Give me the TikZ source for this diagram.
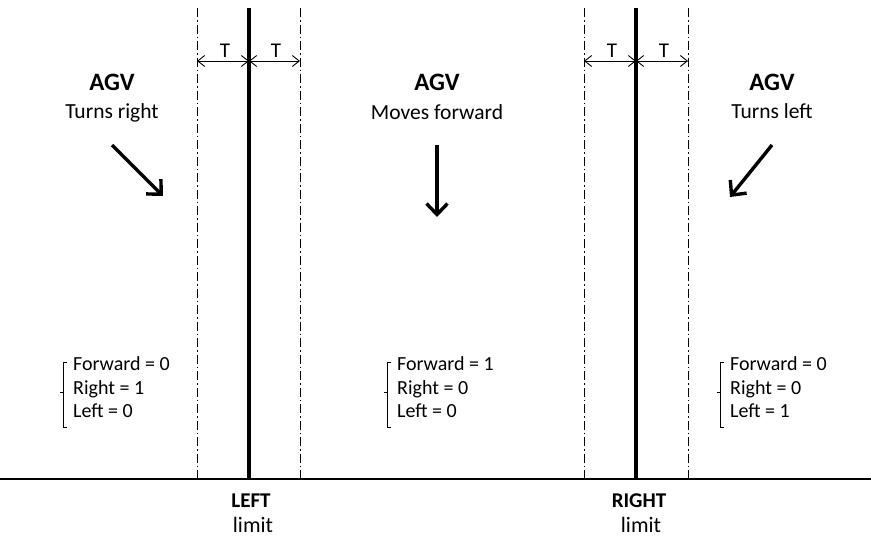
\documentclass[tikz,border=0pt]{standalone}
\usepackage{fontspec}
\setmainfont{Carlito}
\usetikzlibrary{arrows.meta}
\begin{document}
\begin{tikzpicture}[x=1pt,y=-1pt,
  limitline/.style={line width=4pt},
  groundline/.style={line width=2.5pt},
  guide/.style={line width=0.9pt, dash pattern=on 9pt off 3pt on 1.5pt off 3pt},
  tarrow/.style={line width=0.9pt, {Straight Barb[length=7pt,width=11pt]}-{Straight Barb[length=7pt,width=11pt]}},
  move/.style={line width=3.4pt, -{Straight Barb[length=11pt,width=21pt]}},
  brk/.style={line width=0.9pt},
  title/.style={font=\fontsize{25}{28}\selectfont\bfseries, anchor=base, inner sep=0pt},
  sub/.style={font=\fontsize{21.5}{25}\selectfont, anchor=base, inner sep=0pt},
  state/.style={font=\fontsize{20}{23}\selectfont, anchor=base west, inner sep=0pt},
  tlabel/.style={font=\fontsize{21}{23}\selectfont, anchor=base, inner sep=0pt},
  limlab/.style={font=\fontsize{21}{24}\selectfont\bfseries, anchor=base, inner sep=0pt},
  limsub/.style={font=\fontsize{22}{24}\selectfont, anchor=base, inner sep=0pt}]
\useasboundingbox (0,0) rectangle (871,538);

% ground
\coordinate (g0) at (0,479);
\coordinate (g1) at (871,479);
\draw[groundline] (g0) -- (g1);

% left limit
\coordinate (Lt) at (249,8);  \coordinate (Lb) at (249,479);
\coordinate (Lat) at (197,8); \coordinate (Lab) at (197,479);
\coordinate (Lbt) at (300,8); \coordinate (Lbb) at (300,479);
\draw[guide] (Lat) -- (Lab);
\draw[guide] (Lbt) -- (Lbb);
\draw[limitline] (Lt) -- (Lb);
\coordinate (LTa) at (197,61); \coordinate (LTm) at (249,61); \coordinate (LTb) at (300,61);
\draw[tarrow] (LTa) -- (LTm);
\draw[tarrow] (LTm) -- (LTb);
\node[tlabel] (LT1) at (225,57) {T};
\node[tlabel] (LT2) at (276,57) {T};

% right limit
\coordinate (Rt) at (636,8);  \coordinate (Rb) at (636,479);
\coordinate (Rat) at (584,8); \coordinate (Rab) at (584,479);
\coordinate (Rbt) at (688,8); \coordinate (Rbb) at (688,479);
\draw[guide] (Rat) -- (Rab);
\draw[guide] (Rbt) -- (Rbb);
\draw[limitline] (Rt) -- (Rb);
\coordinate (RTa) at (584,61); \coordinate (RTm) at (636,61); \coordinate (RTb) at (688,61);
\draw[tarrow] (RTa) -- (RTm);
\draw[tarrow] (RTm) -- (RTb);
\node[tlabel] (RT1) at (612,57) {T};
\node[tlabel] (RT2) at (664,57) {T};

% limit labels
\node[limlab] (leftlab) at (251,507) {LEFT};
\node[limsub] (leftsub) at (253,532) {limit};
\node[limlab] (rightlab) at (639,507) {RIGHT};
\node[limsub] (rightsub) at (641,532) {limit};

% titles
\node[title] (agv1) at (112,90) {AGV};
\node[sub] (s1) at (112,118) {Turns right};
\node[title] (agv2) at (437,90) {AGV};
\node[sub] (s2) at (437,119) {Moves forward};
\node[title] (agv3) at (772,90) {AGV};
\node[sub] (s3) at (772,118) {Turns left};

% motion arrows
\coordinate (a1s) at (112,145); \coordinate (a1e) at (163,196);
\coordinate (a2s) at (437,145); \coordinate (a2e) at (437,217);
\coordinate (a3s) at (772,145); \coordinate (a3e) at (730,197);
\draw[move] (a1s) -- (a1e);
\draw[move] (a2s) -- (a2e);
\draw[move] (a3s) -- (a3e);

% state blocks
\node[state] (f1) at (73,370) {Forward = 0};
\node[state] (r1) at (73,394) {Right = 1};
\node[state] (l1) at (73,417) {Left = 0};
\draw[brk] (67,362) -- (63,362) -- (63,427) -- (67,427);
\draw[brk] (63,392) -- (60,392);

\node[state] (f2) at (397,370) {Forward = 1};
\node[state] (r2) at (397,394) {Right = 0};
\node[state] (l2) at (397,417) {Left = 0};
\draw[brk] (391,362) -- (387,362) -- (387,427) -- (391,427);
\draw[brk] (387,392) -- (384,392);

\node[state] (f3) at (730,370) {Forward = 0};
\node[state] (r3) at (730,394) {Right = 0};
\node[state] (l3) at (730,417) {Left = 1};
\draw[brk] (724,362) -- (720,362) -- (720,427) -- (724,427);
\draw[brk] (720,392) -- (717,392);
\end{tikzpicture}
\end{document}
